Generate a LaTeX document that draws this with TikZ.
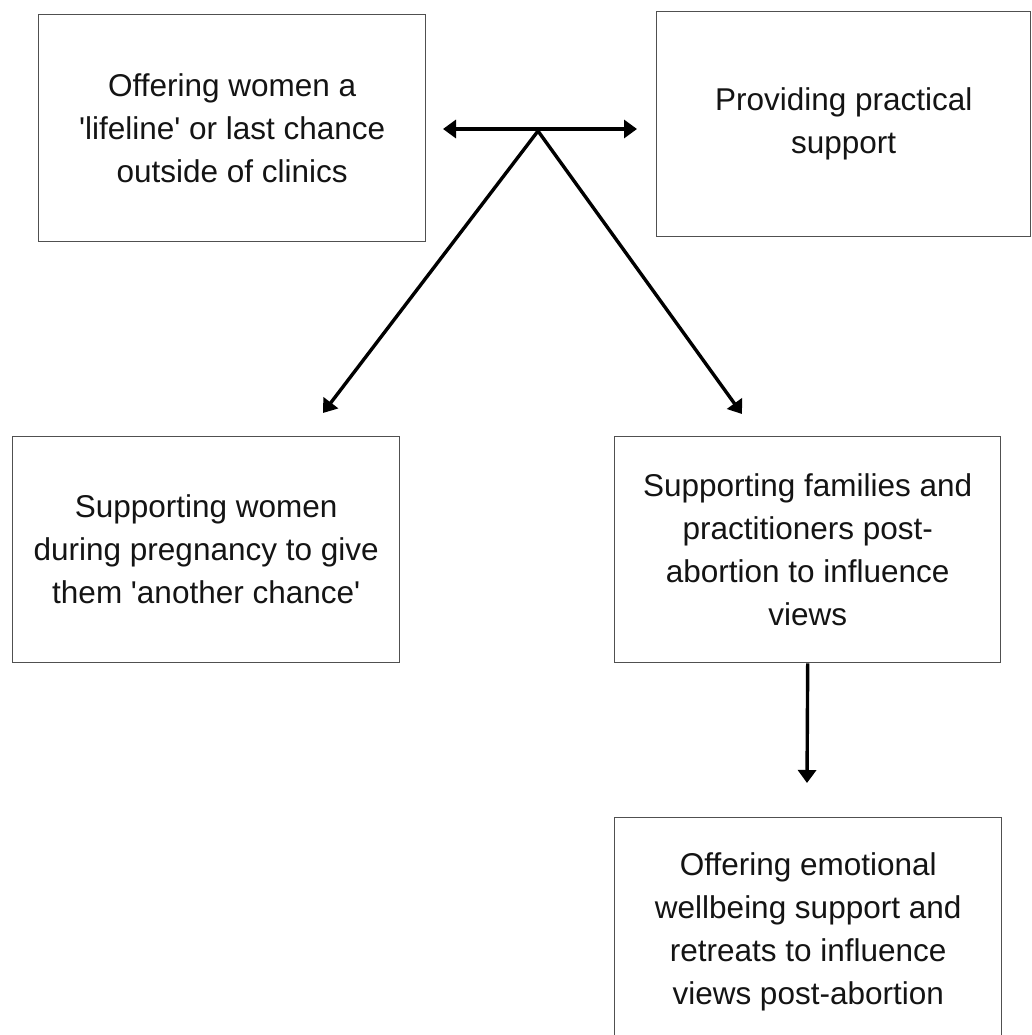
\documentclass[tikz,border=0pt]{standalone}
\usepackage{fontspec}
\setmainfont{Liberation Sans}
\usetikzlibrary{arrows.meta}
\definecolor{boxline}{RGB}{80,80,80}
\definecolor{txt}{RGB}{20,20,20}
\newcommand{\sq}{\textquotesingle}
\begin{document}
\begin{tikzpicture}[x=1pt,y=-1pt,
  box/.style={draw=boxline, line width=1.4pt, anchor=north west, align=center,
    text=txt, inner sep=0pt, font=\fontsize{31.5}{43}\selectfont},
  conn/.style={line width=3.4pt, -{Triangle[length=13pt,width=18pt]}},
  dconn/.style={line width=3.4pt, {Triangle[length=13pt,width=18pt]}-{Triangle[length=13pt,width=18pt]}}]
\useasboundingbox (0,0) rectangle (1031,1035);
\fill[white] (0,0) rectangle (1031,1035);
\node[box, minimum width=387pt, minimum height=227pt] (a) at (38,14)
  {Offering women a\\\sq lifeline\sq{} or last chance\\outside of clinics};
\node[box, minimum width=374pt, minimum height=225pt] (b) at (656,11)
  {Providing practical\\support};
\node[box, minimum width=387pt, minimum height=226pt] (c) at (12,436)
  {Supporting women\\during pregnancy to give\\them \sq another chance\sq};
\node[box, minimum width=386pt, minimum height=226pt] (d) at (614,436)
  {Supporting families and\\practitioners post-\\abortion to influence\\views};
\node[box, minimum width=387pt, minimum height=228pt] (e) at (614,817)
  {Offering emotional\\wellbeing support and\\retreats to influence\\views post-abortion};
\coordinate (hl) at (443,129);
\coordinate (hr) at (637,129);
\coordinate (hub) at (538,131);
\coordinate (tl) at (323,413);
\coordinate (tr) at (742,414);
\coordinate (ve) at (807,783);
\draw[dconn] (hl) -- (hr);
\draw[conn] (hub) -- (tl);
\draw[conn] (hub) -- (tr);
\draw[conn] (d.south) -- (ve);
\end{tikzpicture}
\end{document}
